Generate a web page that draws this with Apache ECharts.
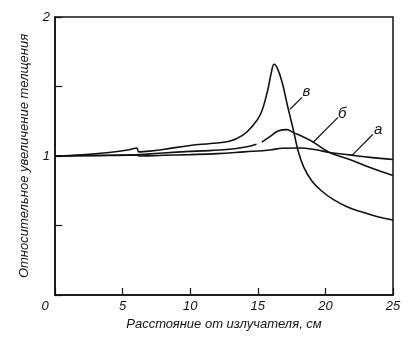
<!DOCTYPE html>
<html>
<head>
<meta charset="utf-8">
<script src="https://cdn.jsdelivr.net/npm/echarts@6/dist/echarts.min.js"></script>
<style>
  html, body { margin: 0; padding: 0; background: #fff; }
  #main { width: 418px; height: 352px; }
</style>
</head>
<body>
<div id="main"></div>
<script>
// кривая в (с острым пиком)
let vX = [0, 2, 4, 5.5, 6.05, 6.2, 7, 8, 10, 11.5, 12.9, 13.9, 14.6, 15.2, 15.7, 16.0, 16.2, 16.45, 16.8, 17.2, 17.6, 18.0, 18.4, 19.0, 19.7, 20.6, 21.6, 22.6, 23.8, 25];
let vY = [1.0, 1.008, 1.025, 1.045, 1.058, 1.03, 1.035, 1.047, 1.076, 1.09, 1.106, 1.15, 1.215, 1.3, 1.46, 1.6, 1.66, 1.63, 1.53, 1.36, 1.2, 1.03, 0.92, 0.82, 0.75, 0.686, 0.635, 0.6, 0.565, 0.54];
// кривая б ('-' = разрыв линии)
let bX = [0, 3, 6, 7, 8, 10, 12.5, 14.1, 14.9, 15.1, 15.3, 15.9, 16.5, 17.16, 17.6, 18.4, 19.1, 20.3, 21.8, 23.3, 25];
let bY = [1.0, 1.003, 1.008, 1.015, 1.022, 1.033, 1.045, 1.065, 1.085, '-', 1.1, 1.14, 1.18, 1.19, 1.17, 1.135, 1.1, 1.025, 0.975, 0.917, 0.86];
// кривая а
let aX = [0, 6, 6.3, 8, 10, 12, 14, 15.9, 16.8, 18.1, 19.3, 20.3, 21.8, 23.3, 25];
let aY = [1.0, 1.007, 1.0, 1.005, 1.01, 1.017, 1.03, 1.043, 1.056, 1.058, 1.045, 1.025, 1.008, 0.99, 0.975];

let xTicks = [0, 5, 10, 15, 20, 25];
let yTickLabels = ['1', '2'];

// выноски: [начало], [конец], подпись
let leaderNames = ['в', 'б', 'а'];
let leaderFrom = [[17.38, 1.336], [19.08, 1.097], [21.97, 1.004]];
let leaderTo = [[18.27, 1.422], [20.93, 1.278], [23.5, 1.155]];
let leaderText = [[18.6, 1.46], [21.25, 1.3], [23.9, 1.19]];

function pairs(xs, ys) {
    let out = [];
    for (let i = 0; i < xs.length; i++) out.push([xs[i], ys[i]]);
    return out;
}

const font = 'Liberation Sans';
let myChart = echarts.init(document.getElementById('main'));

let leaderLines = [], leaderLabels = [];
for (let i = 0; i < leaderNames.length; i++) {
    leaderLines.push([{coord: leaderFrom[i]}, {coord: leaderTo[i]}]);
    leaderLabels.push({coord: leaderText[i], value: leaderNames[i]});
}

let lineBase = {
    type: 'line',
    showSymbol: false,
    symbol: 'none',
    smooth: 0.4,
    lineStyle: {color: '#111', width: 1.6},
    itemStyle: {color: '#111'},
    silent: true
};

let option = {
    animation: false,
    backgroundColor: '#fff',
    grid: {
        left: 55, right: 25, top: 17, bottom: 57,
        show: true, borderColor: '#111', borderWidth: 1.5
    },
    xAxis: {
        type: 'value',
        min: 0, max: 25, interval: 5,
        name: 'Расстояние от излучателя, см',
        nameLocation: 'middle',
        nameGap: 14,
        nameTextStyle: {fontFamily: font, fontStyle: 'italic', fontSize: 13, color: '#111', verticalAlign: 'top'},
        axisLine: {show: true, lineStyle: {color: '#111', width: 1.5}},
        axisTick: {show: true, inside: true, length: 7, lineStyle: {color: '#111', width: 1.2}},
        splitLine: {show: false},
        axisLabel: {
            margin: 5,
            fontFamily: font, fontStyle: 'italic', fontSize: 13, color: '#111',
            formatter: function (v) {
                if (xTicks.indexOf(v) < 0) return '';
                return v === 0 ? '{z|0}' : String(v);
            },
            rich: {z: {fontFamily: font, fontStyle: 'italic', fontSize: 13, color: '#111', padding: [0, 20, 0, 0]}}
        }
    },
    yAxis: {
        type: 'value',
        min: 0, max: 2, interval: 0.5,
        name: 'Относительное увеличение телщения',
        nameLocation: 'middle',
        nameGap: 24,
        nameTextStyle: {fontFamily: font, fontStyle: 'italic', fontSize: 13, color: '#111'},
        axisLine: {show: true, lineStyle: {color: '#111', width: 1.5}},
        axisTick: {show: true, inside: true, length: 7, lineStyle: {color: '#111', width: 1.2}},
        splitLine: {show: false},
        axisLabel: {
            margin: 5,
            fontFamily: font, fontStyle: 'italic', fontSize: 13, color: '#111',
            formatter: function (v) {
                let s = String(v);
                return yTickLabels.indexOf(s) >= 0 ? s : '';
            }
        }
    },
    series: [
        Object.assign({}, lineBase, {
            name: 'в',
            data: pairs(vX, vY),
            markLine: {
                silent: true,
                symbol: ['none', 'none'],
                lineStyle: {color: '#111', width: 1.2, type: 'solid'},
                label: {show: false},
                data: leaderLines
            },
            markPoint: {
                silent: true,
                symbol: 'circle',
                symbolSize: 1,
                itemStyle: {color: 'rgba(0,0,0,0)'},
                label: {
                    show: true, position: 'inside',
                    fontFamily: font, fontStyle: 'italic', fontSize: 15, color: '#111',
                    formatter: function (p) { return p.value; }
                },
                data: leaderLabels
            }
        }),
        Object.assign({}, lineBase, {name: 'б', data: pairs(bX, bY), connectNulls: false}),
        Object.assign({}, lineBase, {name: 'а', data: pairs(aX, aY)})
    ]
};
myChart.setOption(option);
</script>
</body>
</html>
